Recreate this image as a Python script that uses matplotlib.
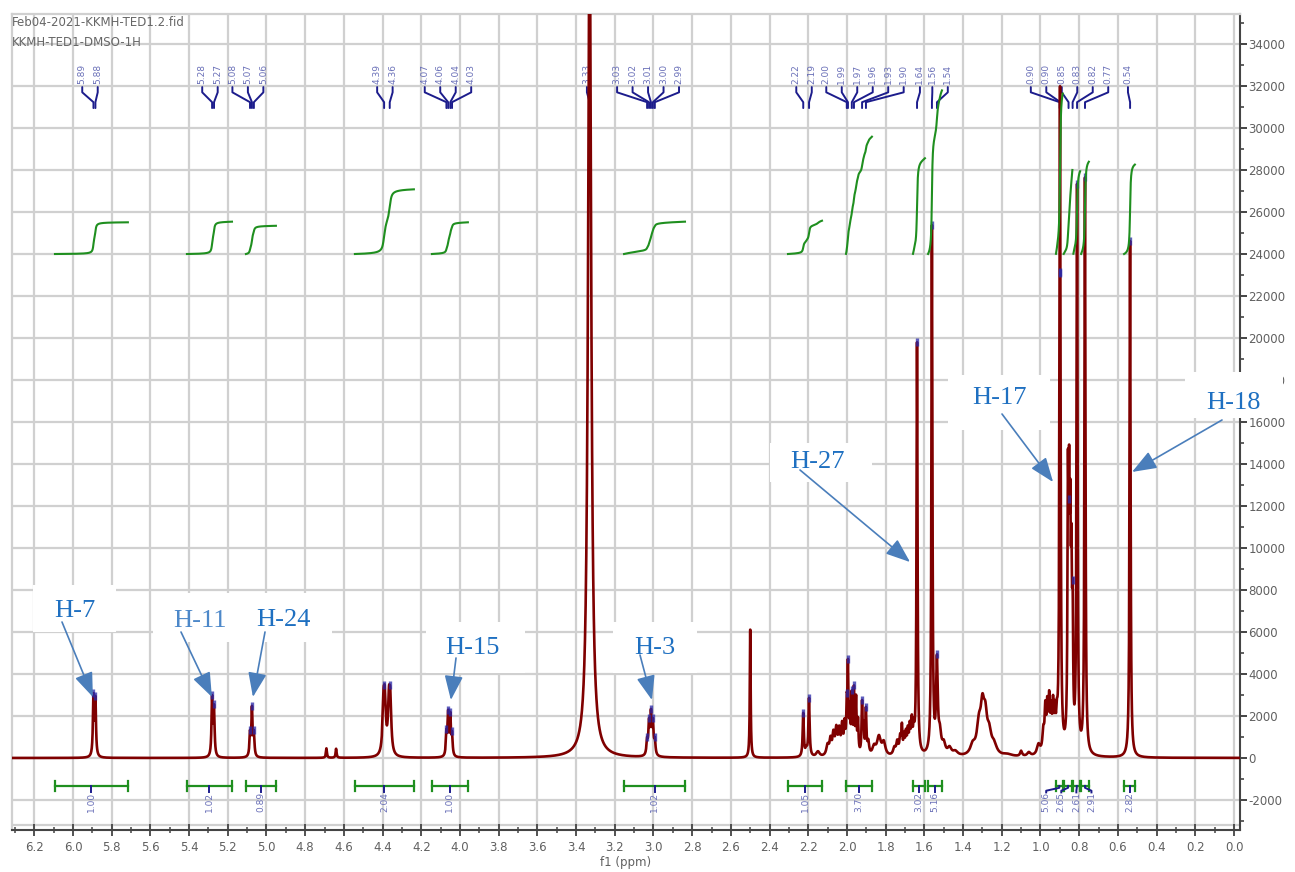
import numpy as np
import matplotlib
matplotlib.use("Agg")
import matplotlib.pyplot as plt
import matplotlib.transforms as mtransforms
from matplotlib.patches import Rectangle
from matplotlib.ticker import FixedLocator, FuncFormatter

W, H = 1295, 872

# ---------------- data ----------------
title_lines = ["Feb04-2021-KKMH-TED1.2.fid", "KKMH-TED1-DMSO-1H"]
x_axis_label = "f1 (ppm)"
x_tick_values = [6.2, 6.0, 5.8, 5.6, 5.4, 5.2, 5.0, 4.8, 4.6, 4.4, 4.2, 4.0, 3.8, 3.6,
                 3.4, 3.2, 3.0, 2.8, 2.6, 2.4, 2.2, 2.0, 1.8, 1.6, 1.4, 1.2, 1.0, 0.8,
                 0.6, 0.4, 0.2, 0.0]
y_tick_values = [-2000, 0, 2000, 4000, 6000, 8000, 10000, 12000, 14000, 16000, 18000,
                 20000, 22000, 24000, 26000, 28000, 30000, 32000, 34000]

# spectrum lines (position ppm, amplitude, half width at half max ppm)
peak_ppm = [5.894, 5.884, 5.281, 5.271, 5.085, 5.075, 5.065, 4.690, 4.640,
            4.395, 4.388, 4.367, 4.360, 4.070, 4.061, 4.050, 4.041, 3.330,
            3.033, 3.023, 3.013, 3.003, 2.993, 2.500, 2.226, 2.210, 2.196,
            2.150, 2.100, 2.085, 2.070, 2.055, 2.040, 2.025, 2.012, 2.001, 1.995,
            1.985, 1.975, 1.964, 1.953, 1.943, 1.922, 1.914, 1.902, 1.890, 1.860,
            1.835, 1.810, 1.755, 1.740, 1.725, 1.716, 1.705, 1.695, 1.685, 1.675,
            1.665, 1.655, 1.638, 1.561, 1.535, 1.520, 1.500, 1.470, 1.440, 1.350,
            1.318, 1.300, 1.285, 1.265, 1.240, 1.170, 1.100, 1.060, 1.010, 0.985,
            0.975, 0.965, 0.955, 0.945, 0.935, 0.925, 0.915, 0.899, 0.858, 0.852,
            0.846, 0.840, 0.834, 0.811, 0.770, 0.537]
peak_amp = [2800, 2650, 2750, 2250, 1050, 2250, 1050, 450, 430,
            2200, 2200, 2200, 2200, 1050, 1950, 1850, 950, 40000,
            650, 1450, 1850, 1450, 650, 6100, 2050, 300, 2750,
            250, 500, 700, 950, 1150, 1100, 1300, 1300, 1900, 3900,
            1900, 2600, 2900, 2500, 1500, 2400, 1200, 2100, 600, 400,
            900, 600, 350, 600, 800, 1200, 800, 900, 1000, 1150,
            1400, 1000, 19600, 25100, 4300, 900, 500, 350, 200, 450,
            1300, 1900, 1500, 900, 450, 100, 250, 180, 500, 1000,
            1900, 2000, 2300, 1700, 2000, 1600, 1100, 31600, 11500, 10000,
            8500, 7000, 5500, 26800, 27400, 24600]
peak_hwhm = [0.0035, 0.0035, 0.0035, 0.0035, 0.0035, 0.0035, 0.0035, 0.003, 0.003,
             0.006, 0.006, 0.006, 0.006, 0.0035, 0.0035, 0.0035, 0.0035, 0.0097,
             0.004, 0.004, 0.004, 0.004, 0.004, 0.0025, 0.0035, 0.006, 0.0035,
             0.010, 0.008, 0.006, 0.006, 0.006, 0.006, 0.005, 0.004, 0.003, 0.003,
             0.003, 0.003, 0.003, 0.003, 0.003, 0.003, 0.003, 0.003, 0.005, 0.010,
             0.012, 0.010, 0.008, 0.006, 0.005, 0.003, 0.004, 0.004, 0.004, 0.004,
             0.004, 0.004, 0.003, 0.003, 0.005, 0.008, 0.010, 0.012, 0.015, 0.015,
             0.013, 0.011, 0.011, 0.013, 0.016, 0.030, 0.006, 0.010, 0.010, 0.006,
             0.004, 0.004, 0.004, 0.004, 0.004, 0.004, 0.004, 0.0032, 0.003, 0.003,
             0.003, 0.003, 0.003, 0.003, 0.003, 0.003]

# peak picking labels
pick_labels = [["5.89", "5.88"], ["5.28", "5.27"], ["5.08", "5.07", "5.06"],
               ["4.39", "4.36"], ["4.07", "4.06", "4.04", "4.03"], ["3.33"],
               ["3.03", "3.02", "3.01", "3.00", "2.99"], ["2.22", "2.19"],
               ["2.00", "1.99", "1.97", "1.96", "1.93", "1.90"], ["1.64"],
               ["1.56", "1.54"], ["0.90", "0.90", "0.85", "0.83", "0.82", "0.77"],
               ["0.54"]]
pick_ppm = [[5.894, 5.884], [5.281, 5.271], [5.085, 5.075, 5.065],
            [4.392, 4.363], [4.070, 4.061, 4.050, 4.041], [3.330],
            [3.033, 3.023, 3.013, 3.003, 2.993], [2.226, 2.196],
            [2.001, 1.995, 1.975, 1.964, 1.922, 1.902], [1.638],
            [1.561, 1.535], [0.901, 0.897, 0.855, 0.834, 0.811, 0.770],
            [0.537]]

# integrals
integral_from = [6.093, 5.411, 5.106, 4.543, 4.145, 3.152, 2.305, 2.005, 1.659,
                 1.581, 0.920, 0.880, 0.830, 0.790, 0.568]
integral_to = [5.716, 5.178, 4.951, 4.238, 3.959, 2.837, 2.129, 1.871, 1.597,
               1.509, 0.885, 0.835, 0.795, 0.750, 0.512]
integral_value = ["1.00", "1.02", "0.89", "2.04", "1.00", "1.02", "1.05", "3.70",
                  "3.02", "5.16", "5.06", "2.65", "2.61", "2.91", "2.82"]

# annotations
annot_text = ["H-7", "H-11", "H-24", "H-15", "H-3", "H-27", "H-17", "H-18"]
annot_ppm = [5.897, 5.282, 5.070, 4.047, 3.008, 1.674, 0.935, 0.527]
annot_value = [2905, 2905, 2905, 2760, 2760, 9330, 13140, 13620]

# ---------------- layout (pixels) ----------------
annot_text_xy = [(75, 611), (200, 621), (283, 620), (472, 648), (655, 648),
                 (817, 462), (999, 398), (1233, 403)]
annot_start_xy = [(62, 622), (181, 632), (265, 632), (456, 658), (640, 655),
                  (800, 470), (1002, 414), (1222, 420)]
annot_box = [(33, 585, 116, 632), (153, 593, 332, 642), (426, 622, 525, 673),
             (613, 622, 697, 673), (770, 443, 872, 482), (948, 375, 1050, 430),
             (1185, 372, 1283, 418)]
annot_color = ["#1f70c1", "#4d88c9", "#1f70c1", "#1f70c1", "#1f70c1", "#1f70c1",
               "#1f70c1", "#1f70c1"]
pick_center = [5.912, 5.292, 5.096, 4.388, 4.062, 3.344, 3.028, 2.222, 1.907,
               1.623, 1.519, 0.850, 0.548]

RED = "#7f0000"
GREEN = "#1f8f1f"
NAVY = "#1c1c8c"
LBLUE = "#6a70b8"
GRID = "#d0d0d0"
AX = "#444444"
TXT = "#606060"

plt.rcParams["font.family"] = ["DejaVu Sans"]

fig = plt.figure(figsize=(W / 100, H / 100), dpi=100)
ax = fig.add_axes([12 / W, (H - 830) / H, (1240 - 12) / W, (830 - 14) / H])
XL = (6.315, -0.031)
YL = (-3430, 35430)
ax.set_xlim(*XL)
ax.set_ylim(*YL)
px = mtransforms.Affine2D().scale(1 / W, -1 / H).translate(0, 1) + fig.transFigure

# grid
for xv in x_tick_values:
    ax.axvline(xv, color=GRID, lw=1.6, zorder=0)
for yv in y_tick_values:
    ax.axhline(yv, color=GRID, lw=1.6, zorder=0)
ax.axhline(-3190, color=GRID, lw=1.6, zorder=0)

# spectrum
xs = np.arange(-0.031, 6.316, 0.0002)
pp = np.array(peak_ppm)[:, None]
aa = np.array(peak_amp, float)[:, None]
gg = np.array(peak_hwhm)[:, None]
spec = (aa * gg ** 2 / ((xs[None, :] - pp) ** 2 + gg ** 2)).sum(axis=0)
ax.plot(xs, spec, color=RED, lw=1.9, zorder=4.5, solid_joinstyle="round")


def model_at(p):
    return float((np.array(peak_amp) * np.array(peak_hwhm) ** 2 /
                  ((p - np.array(peak_ppm)) ** 2 + np.array(peak_hwhm) ** 2)).sum())


# peak tops (blue) and pick trees
for labels, ppms, c in zip(pick_labels, pick_ppm, pick_center):
    n = len(labels)
    lx = [c + 0.08 * ((n - 1) / 2 - i) for i in range(n)]
    for t, xl, p in zip(labels, lx, ppms):
        ax.text(xl, 32080, t, rotation=90, ha="center", va="bottom", fontsize=6.5,
                color=LBLUE, zorder=4)
        ax.plot([xl, xl, p, p], [31950, 31700, 31230, 30950], color=NAVY, lw=1.4,
                zorder=4, solid_capstyle="round", solid_joinstyle="round")
        v = model_at(p)
        if v < YL[1]:
            ax.plot([p], [v], marker="|", ms=6, mew=2.4, color="#2828a8", alpha=0.75,
                    zorder=4.6)

# integrals
scale = 1510
base = 24000
centers = []
for a, b, val in zip(integral_from, integral_to, integral_value):
    hi, lo = max(a, b), min(a, b)
    m = (xs >= lo) & (xs <= hi)
    xx = xs[m][::-1]
    yy = spec[m][::-1]
    cum = np.cumsum(yy)
    cum = cum / cum[-1]
    ax.plot(xx, base + cum * float(val) * scale, color=GREEN, lw=1.5, zorder=5)
    ax.plot([hi, lo], [-1330, -1330], color=GREEN, lw=1.6, zorder=5)
    ax.plot([hi, hi], [-1100, -1560], color=GREEN, lw=1.6, zorder=5)
    ax.plot([lo, lo], [-1100, -1560], color=GREEN, lw=1.6, zorder=5)
    centers.append((hi + lo) / 2)

# group close integral labels
groups = [[0]]
for i in range(1, len(centers)):
    if abs(centers[i] - centers[i - 1]) < 0.06:
        groups[-1].append(i)
    else:
        groups.append([i])
for g in groups:
    n = len(g)
    mc = np.mean([centers[i] for i in g])
    for k, i in enumerate(g):
        lx = centers[i] if n == 1 else mc + 0.078 * ((n - 1) / 2 - k) + 0.018
        ax.plot([centers[i], centers[i], lx, lx], [-1330, -1420, -1560, -1640],
                color=NAVY, lw=1.4, zorder=5)
        ax.text(lx, -1620, integral_value[i], rotation=90, ha="center", va="top",
                fontsize=6.5, color=LBLUE, zorder=5)

# header text
ax.text(12, 23, title_lines[0], transform=px, fontsize=8.5, color="#666666",
        va="center", ha="left", zorder=4)
ax.text(12, 42, title_lines[1], transform=px, fontsize=8.5, color="#666666",
        va="center", ha="left", zorder=4)

# axes style
for s in ["left", "top"]:
    ax.spines[s].set_color(GRID)
    ax.spines[s].set_linewidth(1.6)
for s in ["right", "bottom"]:
    ax.spines[s].set_color(AX)
    ax.spines[s].set_linewidth(1.5)
ax.yaxis.tick_right()
ax.yaxis.set_major_locator(FixedLocator(y_tick_values))
ax.yaxis.set_minor_locator(FixedLocator([v + 1000 for v in [-4000] + y_tick_values]))
ax.xaxis.set_major_locator(FixedLocator(x_tick_values))
ax.xaxis.set_minor_locator(FixedLocator([v + 0.1 for v in x_tick_values]))
ax.xaxis.set_major_formatter(FuncFormatter(lambda v, p: f"{abs(v):.1f}" if abs(v) < 1e-9 else f"{v:.1f}"))
ax.yaxis.set_major_formatter(FuncFormatter(lambda v, p: f"{int(v)}"))
ax.tick_params(axis="y", which="major", direction="out", length=5, width=1.4,
               color=AX, labelsize=8.5, labelcolor=TXT, pad=1)
ax.tick_params(axis="y", which="minor", direction="out", length=3, width=1.2, color=AX)
ax.tick_params(axis="x", which="major", direction="inout", length=8, width=1.3,
               color=AX, labelsize=8.5, labelcolor=TXT, pad=4)
ax.tick_params(axis="x", which="minor", direction="inout", length=4, width=1.1, color=AX)
ax.set_xlabel(x_axis_label, fontsize=8.5, color=TXT, labelpad=1)

# annotations
for (x0, y0, x1, y1) in annot_box:
    ax.add_patch(Rectangle((x0, y0), x1 - x0, y1 - y0, transform=px, facecolor="white",
                           edgecolor="none", clip_on=False, zorder=6))
for t, p, v, txy, sxy, col in zip(annot_text, annot_ppm, annot_value, annot_text_xy,
                                  annot_start_xy, annot_color):
    ax.text(txy[0], txy[1], t, transform=px, ha="center", va="center",
            family=["Liberation Serif", "DejaVu Serif"], fontsize=19, color=col, zorder=7)
    ax.annotate("", xy=(p, v), xycoords="data", xytext=sxy, textcoords=px,
                arrowprops=dict(arrowstyle="-|>,head_length=1.0,head_width=0.38",
                                mutation_scale=15, color="#4a7ebb", lw=1.2,
                                shrinkA=0, shrinkB=0),
                annotation_clip=False, zorder=8)

fig.savefig("out.png", dpi=100, facecolor="white")
